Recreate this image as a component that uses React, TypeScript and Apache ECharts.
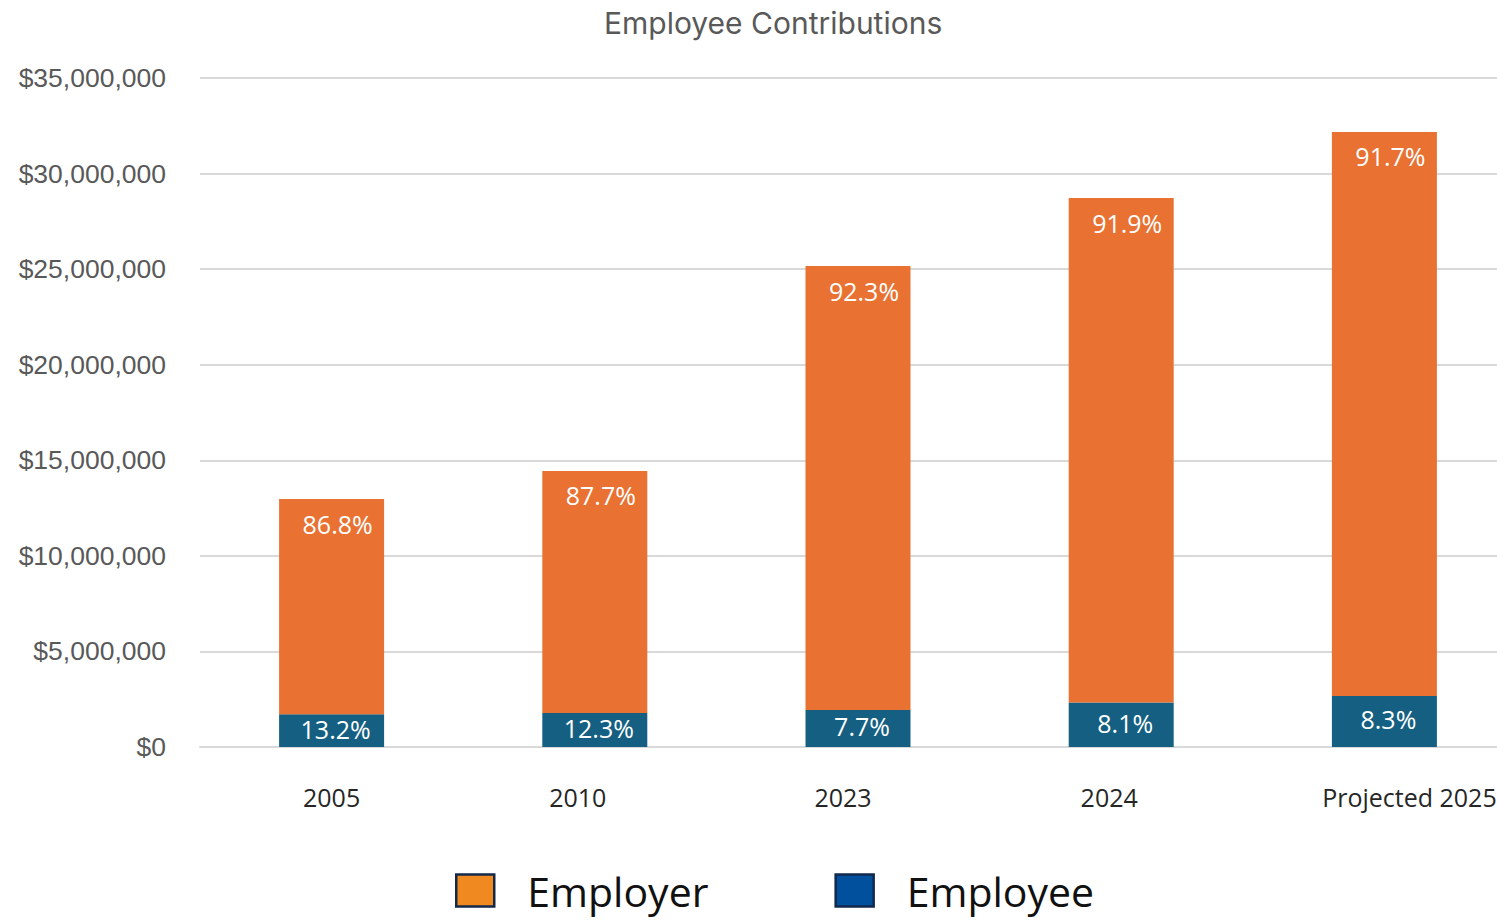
import React, { useEffect, useRef } from "react";
import * as echarts from "echarts";

// Contribution totals per year, split by who pays
const categories = ["2005", "2010", "2023", "2024", "Projected 2025"];
const employerValues = [11258000, 12664000, 23223000, 26394000, 29509000];
const employeeValues = [1712000, 1776000, 1937000, 2326000, 2671000];
const yTicks = { min: 0, max: 35000000, interval: 5000000 };

const ORANGE = "#E97132";
const BLUE = "#156082";

const share = (part: number, i: number) =>
  ((part / (employerValues[i] + employeeValues[i])) * 100).toFixed(1) + "%";

const fmtDollars = (v: number) => "$" + v.toLocaleString("en-US");

export default function App() {
  const ref = useRef<HTMLDivElement>(null);

  useEffect(() => {
    if (!ref.current) return;
    const chart = echarts.init(ref.current, undefined, { renderer: "svg" });

    // small horizontal nudges (padding left/right) for the category labels
    const labelPads = [
      [0, 0, 0, 0],
      [0, 34, 0, 0],
      [0, 30, 0, 0],
      [0, 24, 0, 0],
      [0, 0, 0, 50],
    ];
    const xData = categories.map((c, i) => ({
      value: c,
      textStyle: { padding: labelPads[i] },
    }));

    chart.setOption({
      animation: false,
      backgroundColor: "#ffffff",
      title: {
        text: "Employee Contributions",
        left: 599,
        top: 3,
        textStyle: {
          fontFamily: "Inter",
          fontWeight: "normal",
          fontSize: 30,
          color: "#595959",
        },
      },
      legend: {
        top: 865,
        left: 450,
        itemWidth: 38,
        itemHeight: 32,
        itemGap: 126,
        icon: "rect",
        textStyle: {
          fontFamily: "Open Sans",
          fontSize: 41,
          color: "#111111",
          padding: [0, 0, 0, 28],
        },
        data: [
          {
            name: "Employer",
            itemStyle: { color: "#F0891F", borderColor: "#13294B", borderWidth: 2.5 },
          },
          {
            name: "Employee",
            itemStyle: { color: "#00509D", borderColor: "#13294B", borderWidth: 2.5 },
          },
        ],
      },
      grid: {
        left: 200,
        top: 78,
        width: 1316,
        height: 669,
        containLabel: false,
        outerBoundsMode: "none",
      },
      xAxis: {
        type: "category",
        data: xData,
        axisTick: { show: false },
        axisLine: { show: true, lineStyle: { color: "#D9D9D9", width: 2 } },
        axisLabel: {
          margin: 37,
          fontFamily: "Open Sans",
          fontSize: 25,
          color: "#262626",
        },
      },
      yAxis: {
        type: "value",
        ...yTicks,
        axisLine: { show: false },
        axisTick: { show: false },
        splitLine: { lineStyle: { color: "#D9D9D9", width: 2 } },
        axisLabel: {
          margin: 34,
          fontFamily: "Liberation Sans",
          fontSize: 26.5,
          color: "#595959",
          formatter: fmtDollars,
        },
      },
      series: [
        {
          name: "Employee",
          type: "bar",
          stack: "total",
          barWidth: 105,
          data: employeeValues,
          itemStyle: { color: BLUE },
          label: {
            show: true,
            position: "inside",
            offset: [4, -2],
            fontFamily: "Open Sans",
            fontSize: 25,
            color: "#ffffff",
            formatter: (p: any) => share(employeeValues[p.dataIndex], p.dataIndex),
          },
        },
        {
          name: "Employer",
          type: "bar",
          stack: "total",
          barWidth: 105,
          data: employerValues,
          itemStyle: { color: ORANGE },
          label: {
            show: true,
            position: "insideTop",
            distance: 12,
            offset: [6, 0],
            fontFamily: "Open Sans",
            fontSize: 25,
            color: "#ffffff",
            formatter: (p: any) => share(employerValues[p.dataIndex], p.dataIndex),
          },
        },
      ],
    });
    return () => chart.dispose();
  }, []);

  return (
    <div
      ref={ref}
      style={{ position: "fixed", left: 0, top: 0, width: 1497, height: 920 }}
    />
  );
}
